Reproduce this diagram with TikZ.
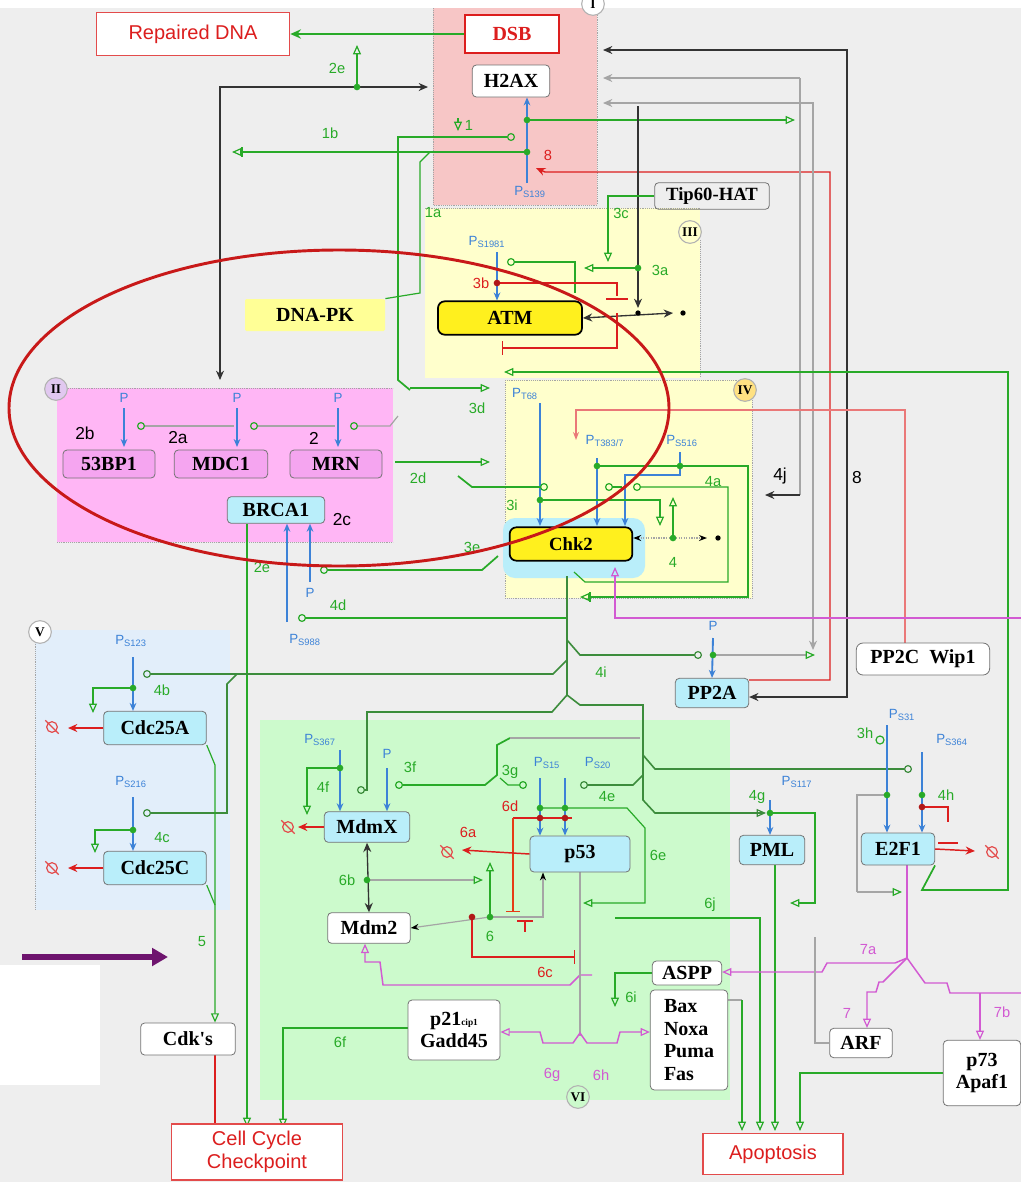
\documentclass[tikz,border=0pt]{standalone}
\usepackage{fontspec}
\setmainfont{Liberation Serif}
\setsansfont{Liberation Sans}
\usetikzlibrary{arrows.meta}
\definecolor{bgc}{RGB}{238,238,238}
\definecolor{regI}{RGB}{247,198,198}
\definecolor{regY}{RGB}{255,255,204}
\definecolor{regII}{RGB}{255,182,245}
\definecolor{regV}{RGB}{226,238,250}
\definecolor{regVI}{RGB}{204,250,204}
\definecolor{gl}{RGB}{40,170,40}
\definecolor{dgl}{RGB}{60,140,60}
\definecolor{bl}{RGB}{60,130,215}
\definecolor{rd}{RGB}{220,30,30}
\definecolor{mg}{RGB}{210,90,210}
\definecolor{gy}{RGB}{165,165,165}
\definecolor{cy}{RGB}{185,238,250}
\definecolor{pk}{RGB}{245,165,240}
\definecolor{yl}{RGB}{255,240,30}
\definecolor{pyl}{RGB}{255,255,150}
\definecolor{ell}{RGB}{200,25,25}
\definecolor{pur}{RGB}{110,20,110}
\definecolor{lav}{RGB}{225,200,240}
\definecolor{org}{RGB}{255,225,130}
\pgfdeclarelayer{bglayer}
\pgfdeclarelayer{lnlayer}
\pgfdeclarelayer{toplayer}
\pgfsetlayers{bglayer,lnlayer,main,toplayer}
\tikzset{
  nd/.style={font=\fontsize{15}{17}\selectfont\bfseries, inner sep=1pt, rounded corners=3pt, draw=black!55, line width=0.6pt},
  outbox/.style={font=\sffamily\fontsize{15}{17}\selectfont, text=rd, draw=rd!80, line width=1pt, fill=white, inner sep=1pt, align=center},
  rc/.style={circle, draw=gray!60, line width=0.8pt, font=\bfseries\fontsize{10}{10}\selectfont, minimum size=17pt, inner sep=0pt},
  glab/.style={font=\sffamily\fontsize{11}{12}\selectfont, text=gl, inner sep=0pt},
  klab/.style={font=\sffamily\fontsize{13}{14}\selectfont, text=black, inner sep=0pt},
  rlab/.style={font=\sffamily\fontsize{11}{12}\selectfont, text=rd, inner sep=0pt},
  mlab/.style={font=\sffamily\fontsize{11}{12}\selectfont, text=mg, inner sep=0pt},
  blab/.style={font=\sffamily\fontsize{10}{11}\selectfont, text=bl, inner sep=0pt},
  gline/.style={draw=gl, line width=1.3pt},
  gthin/.style={draw=gl, line width=0.9pt},
  dgline/.style={draw=dgl, line width=1.2pt},
  gyline/.style={draw=gy, line width=0.9pt},
  kline/.style={draw=black!80, line width=1pt},
  rline/.style={draw=rd, line width=1.1pt},
  mline/.style={draw=mg, line width=1.1pt},
  blarr/.style={draw=bl, line width=1.4pt, -{Stealth[length=6pt,width=5pt]}},
  gdot/.style={circle, fill=gl, inner sep=0pt, minimum size=5pt},
  rdot/.style={circle, fill=rd!80!black, inner sep=0pt, minimum size=5pt},
  kdot/.style={circle, fill=black, inner sep=0pt, minimum size=4pt},
  degsym/.pic={\draw[rd!80, line width=0.9pt] (0,0) circle[radius=4pt];
               \draw[rd!80, line width=0.9pt] (-5pt,5pt) -- (5pt,-5pt);}
}
\begin{document}
\begin{tikzpicture}[x=0.75pt,y=-0.75pt,
  ot/.tip={Triangle[open,length=7pt,width=6pt,line width=0.9pt]},
  oc/.tip={Circle[open,length=6pt,width=6pt,line width=0.9pt]},
  st/.tip={Stealth[length=7pt,width=6pt]}]
\useasboundingbox (0,0) rectangle (1021,1182);
% ---------------- background and regions
\begin{pgfonlayer}{bglayer}
\fill[bgc] (0,0) rectangle (1021,1182);
\fill[white] (0,0) rectangle (1021,8);
\fill[white] (0,965) rectangle (100,1085);
\fill[regI] (433,8) rectangle (597,205);
\fill[regY] (425,208) rectangle (700,378);
\fill[regY] (505,380) rectangle (752,598);
\fill[regII] (57,388) rectangle (393,542);
\fill[regV] (35,630) rectangle (230,910);
\fill[regVI] (260,720) rectangle (730,1100);
\draw[gy,densely dotted] (433,8) -- (433,205) -- (597,205) -- (597,8);
\draw[gy,densely dotted] (425,208) -- (700,208) (700,240) -- (700,378);
\draw[gy,densely dotted] (505,380) -- (752,380) -- (752,598) -- (505,598) -- cycle;
\draw[gy,densely dotted] (57,388) -- (393,388) (57,542) -- (393,542);
\draw[gy,densely dotted] (35,640) -- (35,910);
\fill[cy, rounded corners=9pt] (503,518) rectangle (645,578);
\end{pgfonlayer}
% ---------------- region markers
\node[rc, fill=white] (rI) at (593,4) {I};
\node[rc, fill=regY] (rIII) at (690,232) {III};
\node[rc, fill=lav] (rII) at (56,389) {II};
\node[rc, fill=org] (rIV) at (745,390) {IV};
\node[rc, fill=white] (rV) at (40,632) {V};
\node[rc, fill=regVI] (rVI) at (578,1097) {VI};
% ---------------- nodes
\node[outbox, minimum width=145pt, minimum height=32pt] (rdna) at (193,34) {Repaired DNA};
\node[nd, draw=rd, line width=1.3pt, rounded corners=0pt, fill=white, text=rd, minimum width=71pt, minimum height=28pt] (dsb) at (512,34) {DSB};
\node[nd, fill=white, minimum width=58pt, minimum height=24pt] (h2ax) at (511,81) {H2AX};
\node[nd, fill=none, font=\fontsize{14}{16}\selectfont\bfseries, minimum width=86pt, minimum height=20pt] (tip60) at (712,196) {Tip60-HAT};
\node[nd, fill=pyl, draw=none, rounded corners=1pt, minimum width=105pt, minimum height=24pt] (dnapk) at (315,315) {DNA-PK};
\node[nd, fill=yl, draw=black, line width=1.3pt, rounded corners=5pt, minimum width=108pt, minimum height=25pt] (atm) at (510,318) {ATM};
\node[nd, fill=pk, minimum width=69pt, minimum height=21pt] (bpa) at (109,464) {53BP1};
\node[nd, fill=pk, minimum width=70pt, minimum height=21pt] (mdc1) at (221,464) {MDC1};
\node[nd, fill=pk, minimum width=69pt, minimum height=21pt] (mrn) at (336,464) {MRN};
\node[nd, fill=cy, minimum width=73pt, minimum height=20pt] (brca1) at (276,510) {BRCA1};
\node[nd, fill=yl, draw=black, line width=1.3pt, rounded corners=5pt, font=\fontsize{14}{16}\selectfont\bfseries, minimum width=92pt, minimum height=25pt] (chk2) at (571,544) {Chk2};
\node[nd, fill=white, rounded corners=5pt, minimum width=100pt, minimum height=24pt] (wip1) at (923,659) {PP2C\ \ Wip1};
\node[nd, fill=cy, minimum width=55pt, minimum height=22pt] (pp2a) at (712,693) {PP2A};
\node[nd, fill=cy, minimum width=77pt, minimum height=25pt] (cdc25a) at (155,728) {Cdc25A};
\node[nd, fill=cy, minimum width=77pt, minimum height=25pt] (cdc25c) at (155,868) {Cdc25C};
\node[nd, fill=cy, minimum width=64pt, minimum height=23pt] (mdmx) at (367,827) {MdmX};
\node[nd, fill=cy, minimum width=75pt, minimum height=27pt] (p53) at (580,854) {p53};
\node[nd, fill=cy, minimum width=49pt, minimum height=22pt] (pml) at (772,850) {PML};
\node[nd, fill=cy, minimum width=55pt, minimum height=24pt] (e2f1) at (898,849) {E2F1};
\node[nd, fill=white, minimum width=62pt, minimum height=23pt] (mdm2) at (369,928) {Mdm2};
\node[nd, fill=white, align=center, minimum width=69pt, minimum height=45pt] (p21) at (454,1030) {p21{\fontsize{7}{8}\selectfont cip1}\\Gadd45};
\node[nd, fill=white, minimum width=52pt, minimum height=18pt] (aspp) at (687,973) {ASPP};
\node[nd, fill=white, align=left, minimum width=58pt, minimum height=75pt] (bax) at (689,1040) {Bax\\Noxa\\Puma\\Fas};
\node[nd, fill=white, minimum width=47pt, minimum height=22pt] (arf) at (861,1043) {ARF};
\node[nd, fill=white, align=center, minimum width=58pt, minimum height=49pt] (p73) at (982,1073) {p73\\Apaf1};
\node[nd, fill=white, minimum width=71pt, minimum height=24pt] (cdks) at (188,1039) {Cdk\textquotesingle s};
\node[outbox, minimum width=128pt, minimum height=42pt] (ccc) at (257,1152) {Cell Cycle\\Checkpoint};
\node[outbox, minimum width=105pt, minimum height=31pt] (apop) at (773,1154) {Apoptosis};
% ---------------- connectors
\begin{pgfonlayer}{lnlayer}
% region I
\draw[gline,-{Stealth[length=8pt,width=7pt]}] (dsb.west) -- (rdna.east);
\coordinate (c2e) at (357,87);
\draw[gthin,-ot] (c2e) -- (357,45);
\draw[kline,st-st] (220,380) -- (220,87) -- (428,87);
\coordinate (cs1) at (527,120);
\coordinate (cs2) at (527,152);
\draw[gline,-{Bar[width=7pt] ot}] (cs2) -- (232,152);
\draw[gline,oc-] (515,137) -- (398,137) -- (398,380) -- (410,390);
\draw[gthin,-ot] (458,118) -- (458,131);
\draw[gthin] (430,152) -- (420,162) -- (420,293) -- (dnapk.north east);
\draw[gline,-ot] (cs1) -- (795,120);
\draw[blarr] (527,183) -- (h2ax.south -| cs1);
\draw[rline,st-] (536,168) -- (545,172) -- (830,172) -- (830,680) -- (pp2a.east |- 0,680);
\draw[kline,st-st] (603,50) -- (847,50) -- (847,697) -- (pp2a.east |- 0,697);
\draw[gyline,-st] (800,78) -- (603,78);
\draw[gyline,st-st] (603,103) -- (813,103) -- (813,650);
\draw[gyline] (800,78) -- (800,495);
\draw[kline,-st] (800,495) -- (765,495);
% region III
\draw[kline,-st] (638,106) -- (638,308);
\draw[kline,st-st] (atm.east) -- (673,313);
\coordinate (c3a) at (638,268);
\draw[gline,-ot] (c3a) -- (584,268);
\draw[gthin,-ot] (tip60.west) -- (608,196) -- (608,262);
\draw[gthin,oc-] (507,262) -- (575,262) -- (575,293);
\draw[blarr] (497,252) -- (atm.north -| 497,0);
\coordinate (c3b) at (497,283);
\draw[rline] (c3b) -- (617,283) -- (617,296);
\draw[rd, line width=2pt] (606,299) -- (628,299);
\draw[rline,-{Bar[width=10pt]}] (617,313) -- (617,348) -- (502,348);
\draw[gline,-ot] (e2f1.south east) -- (922,890) -- (1008,890) -- (1008,372) -- (504,372);
\draw[gthin,-ot] (410,388) -- (490,388);
\draw[gthin,-ot] (395,462) -- (490,462);
% region II
\foreach \xx in {124,237,338} {\draw[blarr] (\xx,408) -- (\xx,447);}
\draw[gyline,{Circle[open,length=6pt,width=6pt,color=gl]}-] (137,426) -- (234,426);
\draw[gyline,{Circle[open,length=6pt,width=6pt,color=gl]}-] (250,426) -- (335,426);
\draw[gyline,{Circle[open,length=6pt,width=6pt,color=gl]}-] (350,426) -- (390,426) -- (398,416);
\draw[blarr] (287,622) -- (brca1.south -| 287,0);
\draw[blarr] (310,582) -- (brca1.south -| 310,0);
\draw[gline,oc-] (320,570) -- (482,570) -- (498,556);
\draw[gline,oc-] (298,618) -- (567,618);
\draw[gline,-ot] (brca1.south -| 247,0) -- (247,1127);
% region IV
\draw[blarr] (540,403) -- (540,526);
\draw[blarr] (597,458) -- (597,526);
\draw[draw=bl, line width=1.4pt, -{Stealth[length=6pt,width=5pt]}] (680,452) -- (680,475) -- (625,475) -- (625,526);
\coordinate (c68) at (540,500);
\coordinate (c387) at (597,466);
\coordinate (c516) at (680,466);
\draw[gthin,-{Bar[width=7pt] ot}] (c387) -- (748,466) -- (748,597) -- (580,597);
\draw[gline,oc-] (548,487) -- (472,487) -- (458,476);
\draw[gthin,oc-] (605,487) -- (622,487);
\draw[gthin,oc-] (633,487) -- (728,487) -- (728,582) -- (585,582) -- (574,572);
\draw[gthin,-ot] (c68) -- (660,500) -- (660,526);
\coordinate (c4) at (673,538);
\draw[gthin,-ot] (c4) -- (673,497);
\draw[gyline,densely dotted,{Stealth[length=6pt,color=black]}-{Stealth[length=6pt,color=black]}] (chk2.east |- c4) -- (707,538);
\draw[draw=rd!60, line width=1pt, -{Stealth[length=6pt]}] (wip1.north -| 905,0) -- (905,410) -- (576,410) -- (576,440);
\draw[mline,-ot] (1021,618) -- (615,618) -- (615,567);
% Chk2 trunk and branches
\draw[dgline] (567,576) -- (567,695);
\draw[dgline,-oc] (567,695) -- (552,712) -- (367,712) -- (367,790) -- (357,790);
\draw[dgline] (567,695) -- (580,705) -- (643,705) -- (643,800) -- (655,813) -- (763,813);
\draw[dgline,-ot] (720,813) -- (766,813);
\draw[dgline,-oc] (643,755) -- (655,769) -- (912,769);
\draw[dgline,oc-] (580,785) -- (633,785) -- (643,775);
\draw[dgline,-oc] (567,640) -- (580,655) -- (702,655);
\coordinate (cpp) at (713,655);
\draw[gyline,-{Triangle[open,length=7pt,width=6pt,color=gl]}] (cpp) -- (815,655);
\draw[blarr] (713,638) -- (pp2a.north);
\draw[dgline,-oc] (567,660) -- (553,674) -- (143,674);
\draw[dgline,-oc] (237,674) -- (227,684) -- (227,813) -- (143,813);
% region V
\draw[blarr] (133,657) -- (cdc25a.north -| 133,0);
\draw[blarr] (133,797) -- (cdc25c.north -| 133,0);
\coordinate (c4b) at (133,688);
\coordinate (c4c) at (133,830);
\draw[gthin,-ot] (c4b) -- (93,688) -- (93,713);
\draw[gthin,-ot] (c4c) -- (95,830) -- (95,853);
\draw[rline,-st] (cdc25a.west) -- (68,728);
\draw[rline,-st] (cdc25c.west) -- (68,868);
\draw[gthin,-ot] (cdc25a.south east) -- (215,765) -- (cdks.north -| 215,0);
\draw[gthin] (cdc25c.south east) -- (215,905);
\draw[rline,-{Bar[width=10pt]}] (cdks.south -| 215,0) -- (215,1128);
\draw[gthin,-ot] (p21.west |- 0,1028) -- (283,1028) -- (283,1128);
% region VI
\draw[blarr] (340,750) -- (mdmx.north -| 340,0);
\draw[blarr] (387,768) -- (mdmx.north -| 387,0);
\coordinate (c4f) at (340,768);
\draw[gthin,-ot] (c4f) -- (307,768) -- (307,815);
\draw[gline,oc-] (395,785) -- (485,785) -- (497,775) -- (497,745) -- (510,738);
\draw[gthin,oc-] (527,785) -- (508,785) -- (500,778);
\draw[gyline] (510,738) -- (640,738);
\draw[blarr] (540,778) -- (p53.north -| 540,0);
\draw[blarr] (565,778) -- (p53.north -| 565,0);
\coordinate (c15) at (540,808);
\coordinate (c20) at (565,808);
\draw[gthin,-ot] (c15) -- (627,808) -- (645,828) -- (645,903) -- (583,903);
\draw[rline] (513,818) -- (572,818);
\draw[draw=rd!70!orange, line width=1pt, -{Bar[width=10pt]}] (513,818) -- (513,912);
\draw[rline] (517,921) -- (533,921) (525,921) -- (525,932);
\draw[rline,-st] (p53.west) -- (462,850);
\coordinate (c6) at (490,917);
\coordinate (c6r) at (472,917);
\draw[gthin,-ot] (c6) -- (490,862);
\draw[gyline,-{Stealth[length=6pt,color=black]}] (c6) -- (543,917) -- (p53.south -| 543,0);
\draw[gyline,-{Stealth[length=6pt,color=black]}] (c6) -- (mdm2.east);
\draw[rline,-{Bar[width=10pt]}] (c6r) -- (472,957) -- (575,957);
\draw[kline,st-st] (mdmx.south) -- (mdm2.north);
\coordinate (c6b) at (367,880);
\draw[gyline,-{Triangle[open,length=7pt,width=6pt,color=gl]}] (c6b) -- (483,880);
\draw[mline,ot-] (mdm2.south -| 365,0) -- (365,962) -- (380,962) -- (383,985) -- (570,985) -- (580,975) -- (592,975);
\draw[gyline] (580,872) -- (580,1036);
\draw[mline,ot-ot] (p21.east |- 0,1032) -- (540,1032) -- (543,1043) -- (573,1043) -- (580,1033) -- (587,1043) -- (617,1043) -- (620,1032) -- (bax.west |- 0,1032);
\draw[gthin,-ot] (aspp.west) -- (615,973) -- (615,1007);
\draw[gthin,-ot] (615,918) -- (760,918) -- (760,1131);
\draw[gyline] (bax.east |- 0,1000) -- (742,1000);
\draw[gthin,-ot] (742,1000) -- (742,1131);
\draw[gthin,-ot] (pml.south -| 775,0) -- (775,1131);
\coordinate (cpml) at (770,813);
\draw[blarr] (770,800) -- (pml.north -| 770,0);
\draw[gthin,-ot] (cpml) -- (815,813) -- (815,903) -- (790,903);
\draw[gthin,-ot] (p73.west |- 0,1073) -- (800,1073) -- (800,1131);
% E2F1
\draw[blarr] (887,725) -- (e2f1.north -| 887,0);
\draw[blarr] (922,752) -- (e2f1.north -| 922,0);
\coordinate (c31) at (887,795);
\coordinate (c364) at (922,795);
\coordinate (c4h) at (922,807);
\draw[gthin] (880,740) circle[radius=4];
\draw[gyline] (c31) -- (857,795) -- (857,892);
\draw[gyline,-{Triangle[open,length=7pt,width=6pt,color=gl]}] (857,892) -- (902,892);
\draw[rline] (c4h) -- (948,807) -- (948,822);
\draw[rd, line width=2pt] (938,843) -- (958,843);
\draw[rline,-st] (e2f1.east) -- (975,851);
% magenta E2F1 outputs
\draw[mline] (e2f1.south -| 907,0) -- (907,958);
\draw[mline,-ot] (907,958) -- (895,963) -- (827,963) -- (822,972) -- (aspp.east |- 0,972);
\draw[mline,-ot] (907,958) -- (883,982) -- (879,982) -- (876,992) -- (867,992) -- (arf.north -| 867,0);
\draw[mline] (907,958) -- (925,983) -- (947,983) -- (950,993) -- (1021,993);
\draw[mline,-ot] (980,993) -- (p73.north -| 980,0);
\draw[gyline] (815,937) -- (815,1043) -- (arf.west |- 0,1043);
% dots
\node[gdot] (d2e) at (c2e) {};
\node[gdot] (ds1) at (cs1) {};
\node[gdot] (ds2) at (cs2) {};
\node[gdot] (d3a) at (c3a) {};
\node[kdot] (dk1) at (638,313) {};
\node[kdot] (dk2) at (683,313) {};
\node[rdot] (d3b) at (c3b) {};
\node[gdot] (d68) at (c68) {};
\node[gdot] (d387) at (c387) {};
\node[gdot] (d516) at (c516) {};
\node[gdot] (d4) at (c4) {};
\node[kdot] (dk3) at (718,538) {};
\node[gdot] (dpp) at (cpp) {};
\node[gdot] (d4b) at (c4b) {};
\node[gdot] (d4c) at (c4c) {};
\node[gdot] (d4f) at (c4f) {};
\node[gdot] (d15) at (c15) {};
\node[gdot] (d20) at (c20) {};
\node[rdot] (r15) at (540,818) {};
\node[rdot] (r20) at (565,818) {};
\node[gdot] (d6) at (c6) {};
\node[rdot] (d6r) at (c6r) {};
\node[gdot] (d6b) at (c6b) {};
\node[gdot] (dpml) at (cpml) {};
\node[gdot] (d31) at (c31) {};
\node[gdot] (d364) at (c364) {};
\node[rdot] (d4h) at (c4h) {};
\end{pgfonlayer}
% degradation symbols
\pic at (52,727) {degsym};
\pic at (52,868) {degsym};
\pic at (288,827) {degsym};
\pic at (447,852) {degsym};
\pic at (992,852) {degsym};
\draw[rline,-st] (mdmx.west) -- (298,827);
% big arrow
\draw[pur, line width=4pt, -{Triangle[length=12pt,width=13pt]}] (22,957) -- (168,957);
% ---------------- labels
\node[glab] (t2e) at (337,68) {2e};
\node[glab] (t1b) at (330,133) {1b};
\node[glab] (t1) at (469,125) {1};
\node[glab] (t1a) at (433,213) {1a};
\node[rlab] (t8r) at (548,155) {8};
\node[blab] (tp139) at (530,192) {P\textsubscript{S139}};
\node[glab] (t3c) at (621,213) {3c};
\node[glab] (t3a) at (660,270) {3a};
\node[blab] (tp1981) at (487,242) {P\textsubscript{S1981}};
\node[rlab] (t3b) at (481,283) {3b};
\node[glab] (t3d) at (477,408) {3d};
\node[glab] (t2d) at (418,478) {2d};
\node[blab] (tpa) at (124,398) {P};
\node[blab] (tpb) at (237,398) {P};
\node[blab] (tpc) at (338,398) {P};
\node[klab] (t2b) at (85,433) {2b};
\node[klab] (t2a) at (178,438) {2a};
\node[klab] (t2) at (314,438) {2};
\node[klab] (t2c) at (342,520) {2c};
\node[glab] (t2e2) at (262,567) {2e};
\node[glab] (t3e) at (472,547) {3e};
\node[blab] (tpb2) at (310,593) {P};
\node[glab] (t4d) at (338,605) {4d};
\node[blab] (tp988) at (305,640) {P\textsubscript{S988}};
\node[blab] (tpt68) at (525,394) {P\textsubscript{T68}};
\node[blab] (tpt387) at (605,441) {P\textsubscript{T383/7}};
\node[blab] (tps516) at (682,441) {P\textsubscript{S516}};
\node[glab] (t4a) at (713,482) {4a};
\node[glab] (t3i) at (512,505) {3i};
\node[glab] (t4) at (673,562) {4};
\node[klab] (t4j) at (780,476) {4j};
\node[klab] (t8k) at (857,478) {8};
\node[glab] (t4i) at (601,672) {4i};
\node[blab] (tpp) at (713,626) {P};
\node[blab] (tp123) at (131,641) {P\textsubscript{S123}};
\node[glab] (t4b) at (162,690) {4b};
\node[blab] (tp216) at (131,782) {P\textsubscript{S216}};
\node[glab] (t4c) at (162,838) {4c};
\node[glab] (t5) at (202,942) {5};
\node[glab] (t6f) at (340,1042) {6f};
\node[blab] (tp367) at (320,740) {P\textsubscript{S367}};
\node[blab] (tpm) at (387,754) {P};
\node[glab] (t4f) at (323,787) {4f};
\node[glab] (t3f) at (410,767) {3f};
\node[glab] (t3g) at (510,772) {3g};
\node[blab] (tp15) at (547,763) {P\textsubscript{S15}};
\node[blab] (tp20) at (598,763) {P\textsubscript{S20}};
\node[glab] (t4e) at (607,797) {4e};
\node[rlab] (t6d) at (510,806) {6d};
\node[rlab] (t6a) at (468,832) {6a};
\node[glab] (t6e) at (658,855) {6e};
\node[glab] (t6b) at (347,880) {6b};
\node[glab] (t6) at (490,936) {6};
\node[rlab] (t6c) at (545,972) {6c};
\node[mlab] (t6g) at (552,1075) {6g};
\node[mlab] (t6h) at (601,1075) {6h};
\node[glab] (t6i) at (631,997) {6i};
\node[glab] (t6j) at (710,905) {6j};
\node[glab] (t4g) at (757,797) {4g};
\node[blab] (tp117) at (797,782) {P\textsubscript{S117}};
\node[glab] (t3h) at (865,733) {3h};
\node[blab] (tp31) at (902,715) {P\textsubscript{S31}};
\node[blab] (tp364) at (952,740) {P\textsubscript{S364}};
\node[glab] (t4h) at (946,795) {4h};
\node[mlab] (t7a) at (868,950) {7a};
\node[mlab] (t7) at (847,1013) {7};
\node[mlab] (t7b) at (1002,1012) {7b};
% ---------------- red ellipse
\begin{pgfonlayer}{toplayer}
\draw[ell, line width=2.2pt] (339,408) ellipse [x radius=247.5pt, y radius=118.5pt];
\end{pgfonlayer}
\end{tikzpicture}
\end{document}
